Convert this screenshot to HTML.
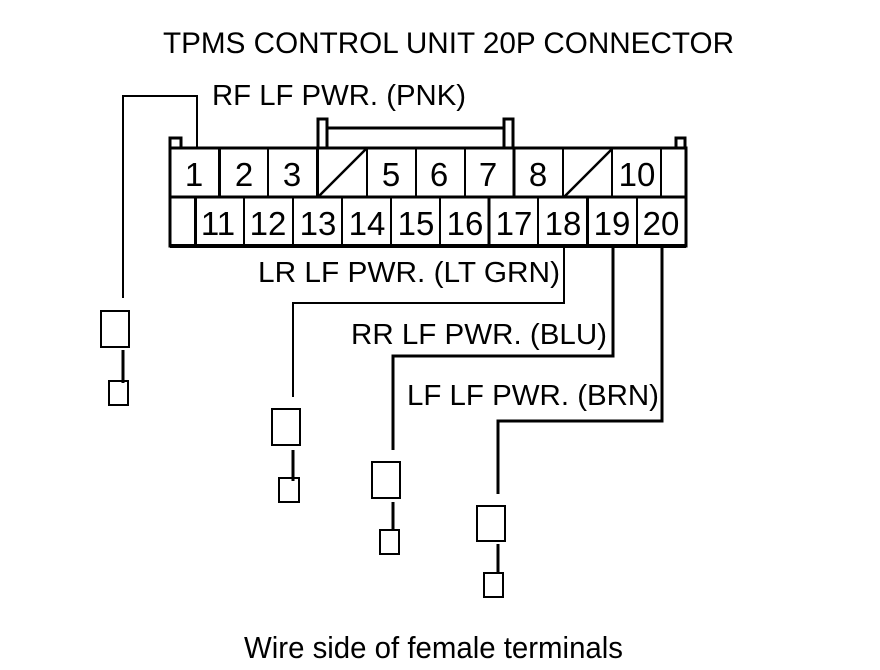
<!DOCTYPE html>
<html>
<head>
<meta charset="utf-8">
<style>
html,body{margin:0;padding:0;background:#fff;}
svg{display:block;}
text{font-family:"Liberation Sans",Arial,sans-serif;fill:#000;}
.d{font-size:33px;text-anchor:middle;}
.l{font-size:28.500px;}
</style>
</head>
<body>
<svg width="880" height="670" viewBox="0 0 880 670" xmlns="http://www.w3.org/2000/svg">
<rect width="880" height="670" fill="#fff"/>
<g fill="none" stroke="#000" shape-rendering="crispEdges">
  <!-- connector outline -->
  <path d="M170 246V148H686V246Z" stroke-width="3"/>
  <path d="M170 197H686" stroke-width="3"/>
  <path d="M170 246H686" stroke-width="4"/>
  <!-- corner tabs -->
  <path d="M170 148V138H181V148" stroke-width="3"/>
  <path d="M676 148V138H685V148" stroke-width="3"/>
  <!-- center latch -->
  <path d="M318 148V119H327V148" stroke-width="3"/>
  <path d="M504 148V119H513V148" stroke-width="3"/>
  <path d="M327 128H504" stroke-width="3"/>
  <!-- top row dividers -->
  <path d="M219.500 148V197M317.500 148V197M514 148V197" stroke-width="3"/>
  <path d="M268 148V197M367 148V197M416 148V197M465 148V197M563 148V197M612 148V197M661 148V197" stroke-width="2"/>
  <!-- bottom row dividers -->
  <path d="M195.500 197V246M489 197V246M587.500 197V246" stroke-width="3"/>
  <path d="M244 197V246M293 197V246M342 197V246M391 197V246M440 197V246M538 197V246M637 197V246" stroke-width="2"/>
  <!-- RF wire -->
  <path d="M197 148V96H123V298" stroke-width="2"/>
  <path d="M123 350V383" stroke-width="3"/>
  <rect x="101" y="311" width="28" height="36" stroke-width="2"/>
  <rect x="109" y="381" width="19" height="24" stroke-width="2"/>
  <!-- LR wire -->
  <path d="M564 246V303H293V397" stroke-width="2"/>
  <path d="M293 450V481" stroke-width="3"/>
  <rect x="272" y="409" width="28" height="36" stroke-width="2"/>
  <rect x="279" y="478" width="20" height="24" stroke-width="2"/>
  <!-- RR wire -->
  <path d="M613 246V356H393V450" stroke-width="3"/>
  <path d="M393 502V530" stroke-width="3"/>
  <rect x="372" y="462" width="28" height="36" stroke-width="2"/>
  <rect x="380" y="530" width="19" height="24" stroke-width="2"/>
  <!-- LF wire -->
  <path d="M662 246V421H498V494" stroke-width="3"/>
  <path d="M498 544V573" stroke-width="3"/>
  <rect x="477" y="506" width="28" height="35" stroke-width="2"/>
  <rect x="484" y="573" width="19" height="24" stroke-width="2"/>
</g>
<!-- blocked cavity diagonals -->
<g stroke="#000" stroke-width="2.500" fill="none">
  <path d="M318 197L367 148"/>
  <path d="M564 197L612 149"/>
</g>
<!-- pin numbers -->
<text class="d" x="194" y="186">1</text>
<text class="d" x="244" y="186">2</text>
<text class="d" x="292" y="186">3</text>
<text class="d" x="391" y="186">5</text>
<text class="d" x="439" y="186">6</text>
<text class="d" x="488" y="186">7</text>
<text class="d" x="538" y="186">8</text>
<text class="d" x="637" y="186">10</text>
<text class="d" x="218" y="235">11</text>
<text class="d" x="268" y="235">12</text>
<text class="d" x="318" y="235">13</text>
<text class="d" x="367" y="235">14</text>
<text class="d" x="416" y="235">15</text>
<text class="d" x="465" y="235">16</text>
<text class="d" x="514" y="235">17</text>
<text class="d" x="563" y="235">18</text>
<text class="d" x="612" y="235">19</text>
<text class="d" x="661" y="235">20</text>
<!-- labels -->
<text x="163" y="53" font-size="30" textLength="571" lengthAdjust="spacingAndGlyphs">TPMS CONTROL UNIT 20P CONNECTOR</text>
<text class="l" x="212" y="105" textLength="254" lengthAdjust="spacingAndGlyphs">RF LF PWR. (PNK)</text>
<text class="l" x="258" y="282" textLength="302" lengthAdjust="spacingAndGlyphs">LR LF PWR. (LT GRN)</text>
<text class="l" x="351" y="344" textLength="256" lengthAdjust="spacingAndGlyphs">RR LF PWR. (BLU)</text>
<text class="l" x="407" y="405" textLength="252" lengthAdjust="spacingAndGlyphs">LF LF PWR. (BRN)</text>
<text x="244" y="658" font-size="30.500" textLength="379" lengthAdjust="spacingAndGlyphs">Wire side of female terminals</text>
</svg>
</body>
</html>
